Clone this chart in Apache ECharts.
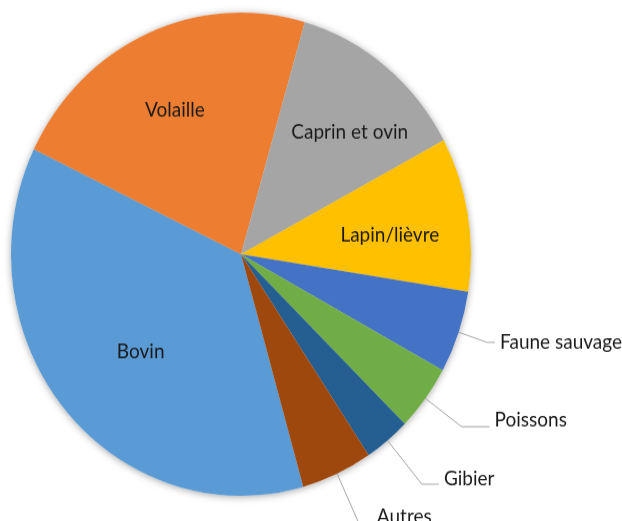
<!DOCTYPE html>
<html>
<head>
<meta charset="utf-8">
<script src="https://cdn.jsdelivr.net/npm/echarts@6/dist/echarts.min.js"></script>
<style>
  html, body { margin: 0; padding: 0; background: #fff; overflow: hidden; }
  #wrap { width: 622px; height: 521px; overflow: hidden; position: relative; }
  #c { width: 622px; height: 496px; transform: scaleY(1.0504); transform-origin: 0 0; }
</style>
</head>
<body>
<div id="wrap"><div id="c"></div></div>
<script>
// ---- data ----
const categories = ['Bovin', 'Volaille', 'Caprin et ovin', 'Lapin/lièvre', 'Faune sauvage', 'Poissons', 'Gibier', 'Autres'];
const values = [36.5, 22.3, 12.7, 10.3, 5.5, 4.4, 3.25, 5.0];
const insideLabelled = ['Bovin', 'Volaille', 'Caprin et ovin', 'Lapin/lièvre'];

// ---- styles ----
const colors = ['#5B9BD5', '#ED7D31', '#A5A5A5', '#FFC000', '#4472C4', '#70AD47', '#255E91', '#9E480E'];
const leader = {
  'Faune sauvage': { length: 30, length2: 8, lift: 0 },
  'Poissons': { length: 45, length2: 28, lift: 6 },
  'Gibier': { length: 54, length2: 17, lift: 5 },
  'Autres': { length: 52, length2: 13, lift: 6 }
};
const insideShift = {
  'Bovin': [20, -8],
  'Volaille': [-2, 6],
  'Caprin et ovin': [10, 6],
  'Lapin/lièvre': [-6, 8]
};
const FONT = 'Lato';
const FSIZE = 19;
const TEXT = '#1a1a1a';
const R = 230;
const CENTER = [241, 242];
const START = -74.3;

const chart = echarts.init(document.getElementById('c'), null, { renderer: 'canvas' });

const mainData = categories.map((name, i) => {
  const isIn = insideLabelled.indexOf(name) >= 0;
  const d = { name: name, value: values[i], itemStyle: { color: colors[i] } };
  if (isIn) {
    d.label = { show: false };
    d.labelLine = { show: false };
  } else {
    const lift = leader[name].lift;
    d.label = {
      show: true,
      position: 'outside',
      formatter: lift > 0 ? '{t|{b}}\n{s| }' : '{t|{b}}',
      rich: {
        t: { fontFamily: FONT, fontSize: FSIZE, color: TEXT, lineHeight: 22 },
        s: { fontSize: 1, lineHeight: lift * 2, height: lift * 2 }
      }
    };
    d.labelLine = { show: true, length: leader[name].length, length2: leader[name].length2 };
  }
  return d;
});

const labelData = categories.map((name, i) => ({
  name: name,
  value: values[i],
  label: { show: insideLabelled.indexOf(name) >= 0 }
}));

const shadowData = categories.map((name, i) => ({ name: name, value: values[i] }));

chart.setOption({
  animation: false,
  backgroundColor: '#ffffff',
  series: [
    {
      type: 'pie',
      z: 1,
      silent: true,
      center: CENTER,
      radius: [0, R],
      startAngle: START,
      clockwise: true,
      label: { show: false },
      labelLine: { show: false },
      itemStyle: { color: '#ffffff', shadowBlur: 7, shadowColor: 'rgba(0,0,0,0.35)', shadowOffsetY: 1 },
      data: shadowData
    },
    {
      type: 'pie',
      z: 2,
      center: CENTER,
      radius: [0, R],
      startAngle: START,
      clockwise: true,
      avoidLabelOverlap: false,
      itemStyle: { borderWidth: 0 },
      label: {
        position: 'outside',
        color: TEXT,
        fontFamily: FONT,
        fontSize: FSIZE,
        overflow: 'none'
      },
      labelLine: {
        lineStyle: { color: '#a6a6a6', width: 1 },
        smooth: false
      },
      data: mainData
    },
    {
      type: 'pie',
      z: 3,
      silent: true,
      center: CENTER,
      radius: [78, R],
      startAngle: START,
      clockwise: true,
      avoidLabelOverlap: false,
      itemStyle: { color: 'rgba(0,0,0,0)' },
      label: {
        position: 'inside',
        color: TEXT,
        fontFamily: FONT,
        fontSize: FSIZE
      },
      labelLine: { show: false },
      labelLayout: function (p) {
        const s = insideShift[categories[p.dataIndex]];
        return s ? { dx: s[0], dy: s[1] } : {};
      },
      data: labelData
    }
  ]
});
</script>
</body>
</html>
